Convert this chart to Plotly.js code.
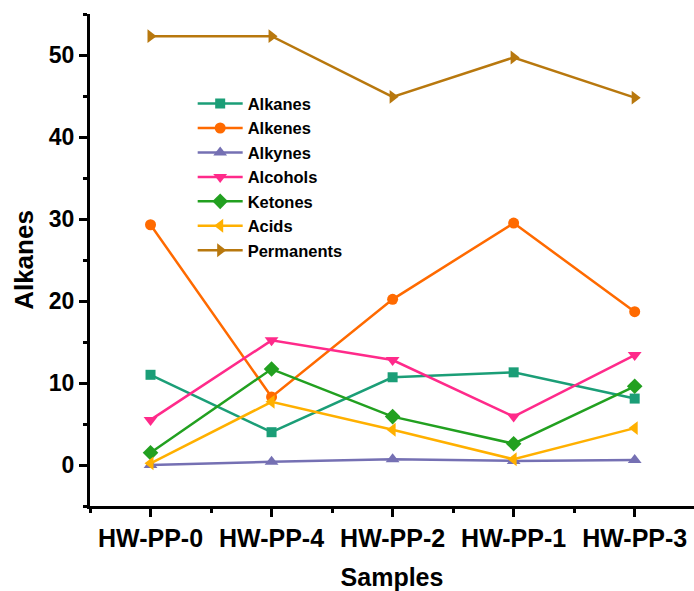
<!DOCTYPE html>
<html>
<head>
<meta charset="utf-8">
<script src="https://cdn.plot.ly/plotly-3.0.1.min.js"></script>
<style>html,body{margin:0;padding:0;background:#fff;}#chart{width:694px;height:591px;}</style>
</head>
<body>
<div id="chart"></div>
<script>
const samples = ["HW-PP-0", "HW-PP-4", "HW-PP-2", "HW-PP-1", "HW-PP-3"];
const alkanes    = [11.0, 4.0, 10.7, 11.3, 8.1];
const alkenes    = [29.3, 8.3, 20.2, 29.5, 18.7];
const alkynes    = [0.0, 0.4, 0.7, 0.5, 0.6];
const alcohols   = [5.5, 15.2, 12.8, 5.9, 13.4];
const ketones    = [1.5, 11.7, 5.9, 2.6, 9.6];
const acids      = [0.2, 7.7, 4.3, 0.7, 4.5];
const permanents = [52.3, 52.3, 44.9, 49.7, 44.8];
const yTickVals = [0, 10, 20, 30, 40, 50];

const xIdx = samples.map((_, i) => i);
const series = [
  {name: "Alkanes", y: alkanes, color: "#1b9e77", symbol: "square", size: 10},
  {name: "Alkenes", y: alkenes, color: "#ff6a00", symbol: "circle", size: 11},
  {name: "Alkynes", y: alkynes, color: "#7570b3", symbol: "triangle-up", size: 12},
  {name: "Alcohols", y: alcohols, color: "#ff2a8a", symbol: "triangle-down", size: 12},
  {name: "Ketones", y: ketones, color: "#22a020", symbol: "diamond", size: 12},
  {name: "Acids", y: acids, color: "#ffb000", symbol: "triangle-left", size: 12},
  {name: "Permanents", y: permanents, color: "#b8780e", symbol: "triangle-right", size: 12}
];
const traces = series.map(s => ({
  type: "scatter", mode: "lines+markers", name: s.name,
  x: xIdx, y: s.y,
  line: {color: s.color, width: 2.5},
  marker: {color: s.color, symbol: s.symbol, size: s.size}
}));
const font = "Liberation Sans, Arial, sans-serif";
const layout = {
  width: 694, height: 591,
  margin: {l: 90, r: 0, t: 14, b: 85},
  paper_bgcolor: "#fff", plot_bgcolor: "#fff",
  showlegend: true,
  legend: {x: 0.17, y: 0.853, xanchor: "left", yanchor: "top", bgcolor: "rgba(0,0,0,0)",
           font: {family: font, size: 16.5, color: "#000", weight: "bold"}, itemwidth: 45},
  xaxis: {
    range: [-0.5, 4.49], tickvals: xIdx, ticktext: samples,
    showgrid: false, zeroline: false, showline: true, linecolor: "#000", linewidth: 3,
    ticks: "outside", ticklen: 8, tickwidth: 2.5, tickcolor: "#000",
    minor: {tick0: -0.5, dtick: 1, ticks: "outside", ticklen: 4, tickwidth: 2.5, tickcolor: "#000", showgrid: false},
    tickfont: {family: font, size: 25, color: "#000", weight: "bold"},
    title: {text: "Samples", font: {family: font, size: 25, color: "#000", weight: "bold"}, standoff: 19}
  },
  yaxis: {
    range: [-5, 55], tickvals: yTickVals,
    showgrid: false, zeroline: false, showline: true, linecolor: "#000", linewidth: 3,
    ticks: "outside", ticklen: 8, tickwidth: 2.5, tickcolor: "#000",
    minor: {dtick: 5, ticks: "outside", ticklen: 4, tickwidth: 2.5, tickcolor: "#000", showgrid: false},
    tickfont: {family: font, size: 23, color: "#000", weight: "bold"},
    title: {text: "Alkanes", font: {family: font, size: 26, color: "#000", weight: "bold"}, standoff: 8}
  }
};
Plotly.newPlot("chart", traces, layout, {displayModeBar: false, responsive: false});
</script>
</body>
</html>
